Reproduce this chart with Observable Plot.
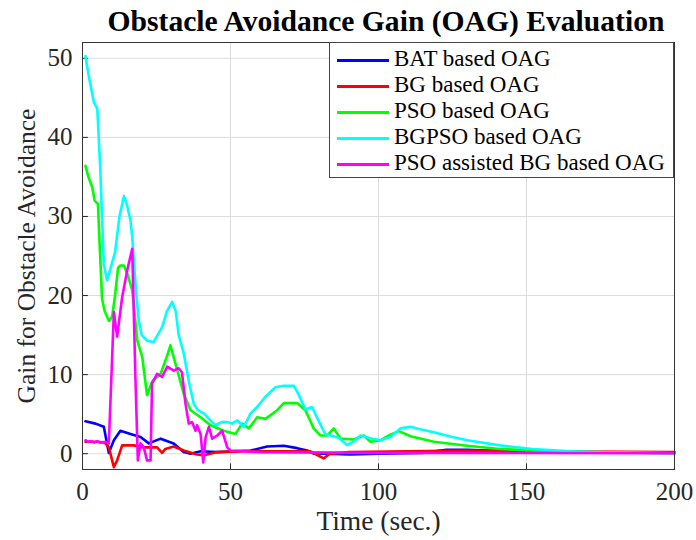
<!DOCTYPE html>
<html><head><meta charset="utf-8">
<script src="https://cdn.jsdelivr.net/npm/d3@7"></script>
<script src="https://cdn.jsdelivr.net/npm/@observablehq/plot@0.6"></script>
<style>
body{margin:0;background:#fff;font-family:"Times New Roman","Liberation Serif","DejaVu Serif",serif;}
#wrap{position:relative;width:696px;height:540px;}
#title{height:40px;width:592px;margin-left:90px;text-align:center;font-weight:bold;font-size:29.6px;line-height:42px;color:#000;white-space:nowrap;}
#legend{position:absolute;left:329px;top:42px;width:345px;height:136px;border:1px solid #444;background:#fff;box-sizing:border-box;}
.li{position:absolute;left:0;height:26px;font-size:23px;line-height:26px;color:#000;white-space:nowrap;}
.li span.sw{position:absolute;left:7px;top:13px;width:52px;height:2.5px;}
.li span.tx{position:absolute;left:64px;top:0;}
svg text{font-family:"Times New Roman","Liberation Serif","DejaVu Serif",serif;}
</style></head>
<body><div id="wrap"><div id="title">Obstacle Avoidance Gain (OAG) Evaluation</div><div id="chart"></div><div id="legend"></div></div>
<script>
const seriesNames = ["BAT based OAG","BG based OAG","PSO based OAG","BGPSO based OAG","PSO assisted BG based OAG"];
const seriesColors = ["#0000ff","#ff0000","#00ff00","#00ffff","#ff00ff"];
const xTicks = [0,50,100,150,200];
const yTicks = [0,10,20,30,40,50];

const batT = [1,4.4,7.2,8.9,10.6,12.8,16.2,19.6,22.4,26.4,30.8,34.2,36.5,39.9,45.5,56.8,62.4,68,72.5,75.9,78.1,81.5,90.5,100,115,123,130,145,160,200];
const batV = [4.1,3.8,3.4,0.1,1.7,2.9,2.5,2.1,1.3,1.9,1.3,0.2,0,0.3,0.2,0.4,0.9,1,0.7,0.4,0,0,-0.1,0,0.1,0.5,0.5,0.3,0.2,0.1];

const bgT = [1,5,7.5,8.9,10.6,11.7,13.4,17.3,20.7,25.2,26.9,28,30.8,34.2,38.7,41,45.5,55,77,79.5,81.5,83.5,90,110,130,150,200];
const bgV = [1.5,1.5,1.4,0.8,-1.7,-0.85,1.05,1.05,0.8,0.8,0.1,0.6,0.9,0.4,-0.1,-0.2,0.2,0.3,0.3,-0.2,-0.6,0,0.2,0.3,0.4,0.3,0.2];

const psoT = [1,2,3.3,4.1,5.2,6.6,7.5,8.9,10,11,12,12.8,14,15.1,16.8,18.5,20.2,21.8,23.5,26.4,28.6,29.7,31.4,34.2,36.5,39.9,43.2,47.7,51.7,53.9,56.2,59,61.8,65.8,68,72.5,75.3,78.1,80.4,82.7,84.9,87.2,91.7,95,97.3,100.7,104,106.9,110.8,118.7,130,141,155,170,200];
const psoV = [36.4,35,33.7,32,31.6,19.6,18,16.8,17.3,20,23.5,23.8,23.8,22.8,20.7,14.3,12.2,7.4,9.1,10.1,12.4,13.7,11.4,7.6,5.5,4.6,3.6,2.9,2.5,3.8,3.2,4.6,4.4,5.5,6.4,6.4,5.5,3.2,2.3,2.3,3.2,1.9,1.8,2.3,1.5,1.7,2.4,2.85,2.2,1.5,1.0,0.6,0.35,0.2,0.05];

const bgpsoT = [1,2,3.8,5,6,7.2,8.3,9.5,11,12.5,14,15,16.2,16.8,18,19,20,21.8,24,26.9,28.5,30.3,31.5,32.5,34.2,36,37.6,39,41,43,44.9,47,48.9,50.5,52.3,54.5,56.8,59,61.8,65.2,68,71.4,73,75.3,77.6,79.3,82,84.9,86.5,89.4,91.5,93.9,97.9,100.7,104,107.4,110.8,114,118.7,125,130,141,152,165,180,200];
const bgpsoV = [50.3,48,44.5,43.6,36,24,21.9,23.5,25.5,30,32.6,31.5,29.5,27.4,21,16.9,15,14.3,14.1,16,18,19.2,18,15,12.7,9,6.3,5.5,5.1,4.3,3.6,4.0,4,3.8,4.2,3.4,5.1,5.9,7.2,8.4,8.6,8.6,7.5,5.6,5.9,4.5,2.5,2.2,2.0,1.1,1.5,2.3,1.9,1.7,2.1,3.2,3.4,3.1,2.7,2.1,1.7,1.05,0.6,0.3,0.15,0.05];

const pabgT = [1,2,3,4,5,6,7.8,8.9,10.6,11.7,13.4,15.1,16.8,17.9,18.7,19.6,20.7,21.8,23,23.5,25.2,26.9,28.6,30.8,32.5,33.6,34.8,35.9,37,38.2,38.7,39.9,40.8,41.6,42.7,43.8,45.5,47.2,48.9,50,60,100,200];
const pabgV = [1.7,1.5,1.6,1.4,1.6,1.4,1.5,1.3,17.9,14.8,19.8,23.2,25.9,9.3,-0.85,1.3,0.8,-0.85,-0.85,8.9,10.1,9.7,11,10.5,10.8,10.3,6.3,3.8,4,2.9,3.6,2.5,-1.1,2.1,3.4,1.9,2.3,2.9,0.8,0.4,0.2,0.1,0.05];

const allT = [batT,bgT,psoT,bgpsoT,pabgT];
const allV = [batV,bgV,psoV,bgpsoV,pabgV];
const rows = [];
allT.forEach((ts,i)=>ts.forEach((t,j)=>rows.push({t, v: allV[i][j], s: seriesNames[i]})));

const font = "'Times New Roman', 'Liberation Serif', serif";
const chart = Plot.plot({
  width: 696, height: 500,
  marginLeft: 82, marginRight: 22, marginTop: 2, marginBottom: 71,
  style: {fontFamily: font, fontSize: "25px", color: "#262626", background: "#fff", overflow: "visible"},
  x: {domain: [0,200], ticks: xTicks, label: null},
  y: {domain: [-2,52], ticks: yTicks, label: null},
  color: {domain: seriesNames, range: seriesColors},
  marks: [
    Plot.gridX(xTicks, {stroke: "#dcdcdc", strokeOpacity: 1, strokeWidth: 1}),
    Plot.gridY(yTicks, {stroke: "#dcdcdc", strokeOpacity: 1, strokeWidth: 1}),
    Plot.ruleY(yTicks, {x1: 0, x2: 2, stroke: "#262626"}),
    Plot.ruleX(xTicks, {y1: -2, y2: -1.3, stroke: "#262626"}),
    ...seriesNames.map(n => Plot.line(rows.filter(r => r.s === n), {x: "t", y: "v", stroke: "s", strokeWidth: 2.6, curve: "linear"})),
    Plot.frame({stroke: "#333", strokeWidth: 1}),
    Plot.axisX({ticks: xTicks, tickSize: 0, tickPadding: 13, fontSize: 25, fill: "#262626", label: null}),
    Plot.axisX({ticks: [], tickSize: 0, fontSize: 27.5, fill: "#262626", label: "Time (sec.)", labelAnchor: "center", labelArrow: "none", labelOffset: 60}),
    Plot.axisY({ticks: yTicks, tickSize: 0, tickPadding: 10, fontSize: 25, fill: "#262626", label: null}),
    Plot.axisY({ticks: [], tickSize: 0, fontSize: 25.5, fill: "#262626", label: "Gain for Obstacle Avoidance", labelAnchor: "center", labelArrow: "none", labelOffset: 66})
  ]
});
document.getElementById("chart").appendChild(chart);

const leg = document.getElementById("legend");
seriesNames.forEach((n,i)=>{
  const d = document.createElement("div");
  d.className = "li";
  d.style.top = (3 + i*26) + "px";
  d.innerHTML = `<span class="sw" style="background:${seriesColors[i]}"></span><span class="tx">${n}</span>`;
  leg.appendChild(d);
});
</script></body></html>
